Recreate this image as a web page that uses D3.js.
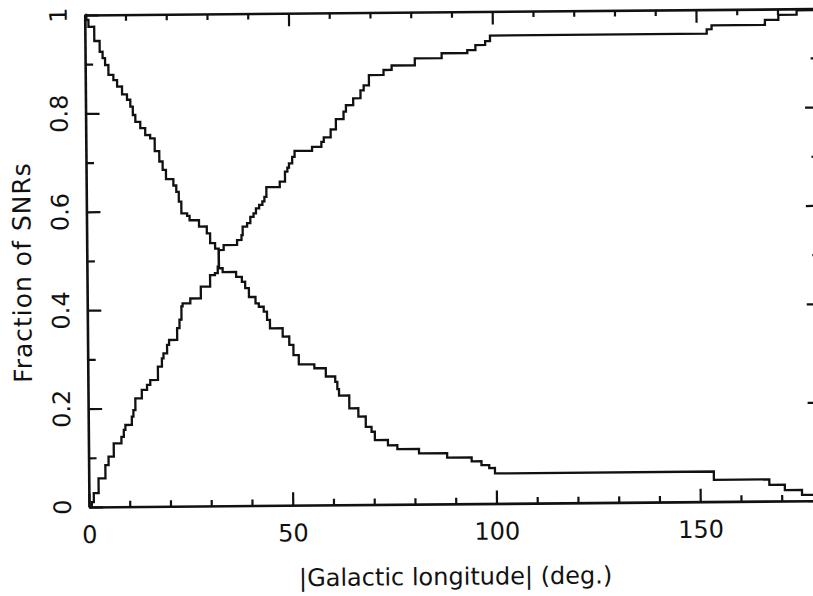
<!DOCTYPE html>
<meta charset="utf-8">
<style>
  body { margin: 0; background: #fff; }
  text { font-family: 'DejaVu Sans', sans-serif; fill: #111; }
</style>
<body>
<div id="chart"></div>

<script src="https://d3js.org/d3.v7.min.js"></script>
<script>
// cumulative fraction of SNRs below |l| (step position in deg, value after step)
var riseLon  = [0, 0.7, 1.2, 2.4, 4.1, 4.9, 6.2, 8.1, 8.7, 9.1, 10.7, 11.1, 11.6, 13.2, 14.5, 15.3, 17.2, 18.2, 18.6, 19.5, 20.0, 22.0, 22.6, 23.1, 23.4, 25.3, 27.9, 30.2, 31.4, 32.1, 32.4, 33.6, 36.9, 38.0, 38.3, 39.4, 40.2, 41.0, 41.6, 42.4, 43.2, 43.7, 44.2, 47.5, 48.8, 49.4, 49.8, 50.6, 51.2, 55.5, 57.8, 58.4, 60.1, 61.4, 63.3, 63.9, 65.7, 67.5, 68.3, 69.6, 73.2, 75.2, 80.9, 87.5, 93.8, 95.8, 98.2, 99.4, 152.6, 153.8, 166.9, 170.2, 174.7, 180];
var riseFrac = [0, 0.01, 0.028, 0.058, 0.085, 0.102, 0.129, 0.142, 0.156, 0.166, 0.183, 0.196, 0.22, 0.237, 0.247, 0.257, 0.284, 0.301, 0.311, 0.328, 0.338, 0.362, 0.379, 0.406, 0.412, 0.422, 0.446, 0.469, 0.473, 0.486, 0.52, 0.53, 0.54, 0.55, 0.567, 0.574, 0.587, 0.594, 0.604, 0.611, 0.618, 0.627, 0.647, 0.658, 0.678, 0.686, 0.695, 0.708, 0.72, 0.728, 0.738, 0.747, 0.763, 0.784, 0.799, 0.812, 0.826, 0.842, 0.852, 0.873, 0.883, 0.892, 0.906, 0.916, 0.922, 0.932, 0.94, 0.951, 0.96, 0.968, 0.978, 0.988, 0.997, 0.997];

// fraction of SNRs above |l|
var fallLon  = [0, 0.4, 0.9, 2.3, 3.6, 4.3, 4.9, 5.7, 6.9, 7.8, 9.0, 10.2, 11.0, 11.6, 12.2, 13.4, 14.6, 15.8, 16.9, 18.0, 18.8, 19.6, 21.4, 22.1, 22.7, 23.3, 24.7, 25.3, 27.6, 29.5, 30.3, 31.5, 32.4, 33.3, 36.6, 38.0, 38.8, 39.7, 41.3, 42.1, 43.3, 44.1, 44.8, 47.9, 49.5, 50.5, 51.8, 55.6, 58.4, 60.7, 61.2, 61.6, 64.1, 66.3, 68.1, 69.5, 70.3, 73.5, 75.8, 81.1, 88.0, 94.0, 96.4, 98.3, 99.7, 153.4, 167.0, 170.8, 175.0, 180];
var fallFrac = [1, 0.99, 0.976, 0.947, 0.925, 0.912, 0.898, 0.878, 0.867, 0.854, 0.838, 0.827, 0.813, 0.796, 0.782, 0.769, 0.755, 0.748, 0.722, 0.701, 0.684, 0.665, 0.652, 0.639, 0.619, 0.595, 0.59, 0.581, 0.568, 0.554, 0.534, 0.523, 0.483, 0.475, 0.465, 0.455, 0.442, 0.424, 0.411, 0.404, 0.394, 0.377, 0.36, 0.343, 0.326, 0.305, 0.286, 0.278, 0.261, 0.25, 0.235, 0.222, 0.196, 0.179, 0.158, 0.148, 0.131, 0.12, 0.112, 0.103, 0.094, 0.086, 0.078, 0.072, 0.061, 0.044, 0.033, 0.022, 0.012, 0.012];

var xMajor = [0, 50, 100, 150];
var xMinor = [10, 20, 30, 40, 60, 70, 80, 90, 110, 120, 130, 140, 160, 170];
var yMajor = [0, 0.2, 0.4, 0.6, 0.8, 1];
var yMinor = [0.1, 0.3, 0.5, 0.7, 0.9];

var W = 813, H = 596;
var x0 = 89, x1 = 822.5, yBot = 507, yTop = 15;

var svg = d3.select("#chart").append("svg")
    .attr("width", W)
    .attr("height", H);

// the scan is tilted a little
var g = svg.append("g")
    .attr("transform", "rotate(-0.5," + x0 + "," + yBot + ")");

var x = d3.scaleLinear().domain([0, 180]).range([x0, x1]);
var y = d3.scaleLinear().domain([0, 1]).range([yBot, yTop]);

function styleAxis(sel) {
  sel.selectAll("path").attr("stroke", "#111").attr("stroke-width", 2.6);
  sel.selectAll("line").attr("stroke", "#111").attr("stroke-width", 2.2);
}

// bottom
g.append("g").attr("transform", "translate(0," + yBot + ")")
  .call(d3.axisBottom(x).tickValues(xMinor).tickSize(-6).tickSizeOuter(0).tickFormat(""))
  .call(styleAxis);
g.append("g").attr("transform", "translate(0," + yBot + ")")
  .call(d3.axisBottom(x).tickValues(xMajor).tickSize(-13).tickSizeOuter(0).tickPadding(19))
  .call(styleAxis)
  .call(function(a) { a.select(".domain").remove(); })
  .selectAll("text")
    .attr("fill", "#111")
    .style("font-size", "24px")
    .style("font-family", "'DejaVu Sans', sans-serif");

// top
g.append("g").attr("transform", "translate(0," + yTop + ")")
  .call(d3.axisTop(x).tickValues(xMinor).tickSize(-6).tickSizeOuter(0).tickFormat(""))
  .call(styleAxis);
g.append("g").attr("transform", "translate(0," + yTop + ")")
  .call(d3.axisTop(x).tickValues(xMajor).tickSize(-13).tickSizeOuter(0).tickFormat(""))
  .call(styleAxis)
  .call(function(a) { a.select(".domain").remove(); });

// left
g.append("g").attr("transform", "translate(" + x0 + ",0)")
  .call(d3.axisLeft(y).tickValues(yMinor).tickSize(-8).tickSizeOuter(0).tickFormat(""))
  .call(styleAxis);
g.append("g").attr("transform", "translate(" + x0 + ",0)")
  .call(d3.axisLeft(y).tickValues(yMajor).tickSize(-14).tickSizeOuter(0).tickFormat(""))
  .call(styleAxis)
  .call(function(a) { a.select(".domain").remove(); });

// right
g.append("g").attr("transform", "translate(" + x1 + ",0)")
  .call(d3.axisRight(y).tickValues(yMinor).tickSize(-8).tickSizeOuter(0).tickFormat(""))
  .call(styleAxis);
g.append("g").attr("transform", "translate(" + x1 + ",0)")
  .call(d3.axisRight(y).tickValues(yMajor).tickSize(-14).tickSizeOuter(0).tickFormat(""))
  .call(styleAxis)
  .call(function(a) { a.select(".domain").remove(); });

// rotated y tick labels
g.selectAll(".ylab")
  .data(yMajor)
  .enter().append("text")
    .attr("class", "ylab")
    .attr("transform", function(d) { return "translate(71," + y(d) + ") rotate(-90)"; })
    .attr("text-anchor", "middle")
    .style("font-size", "24px")
    .text(function(d) { return String(d); });

// curves
var line = d3.line()
    .x(function(d) { return x(d[0]); })
    .y(function(d) { return y(d[1]); })
    .curve(d3.curveStepAfter);

var rise = riseLon.map(function(l, i) { return [l, riseFrac[i]]; });
var fall = fallLon.map(function(l, i) { return [l, fallFrac[i]]; });

[rise, fall].forEach(function(s) {
  g.append("path")
    .datum(s)
    .attr("d", line)
    .attr("fill", "none")
    .attr("stroke", "#111")
    .attr("stroke-width", 2.3);
});

// axis titles
g.append("text")
  .attr("x", 455)
  .attr("y", 588)
  .attr("text-anchor", "middle")
  .style("font-size", "24px")
  .text("|Galactic longitude| (deg.)");

g.append("text")
  .attr("transform", "translate(33,272) rotate(-90)")
  .attr("text-anchor", "middle")
  .style("font-size", "25px")
  .style("letter-spacing", "1px")
  .text("Fraction of SNRs");
</script>
</body>
